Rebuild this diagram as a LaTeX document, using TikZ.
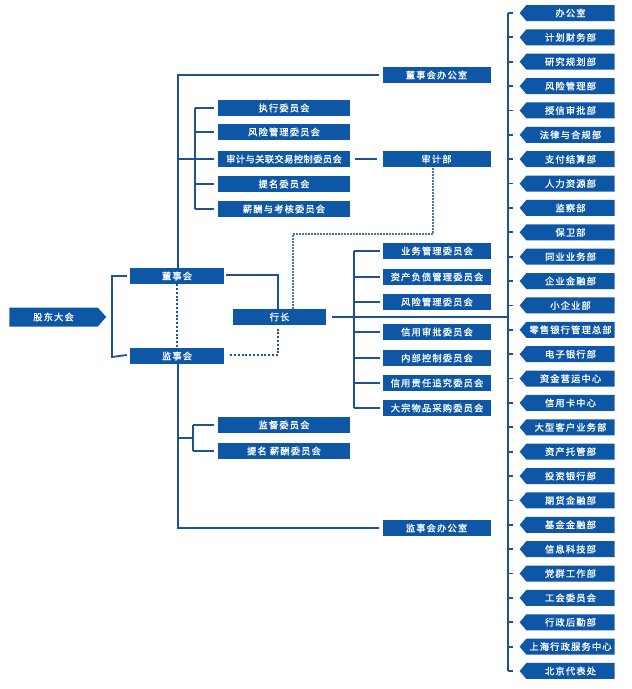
\documentclass[tikz,border=0pt]{standalone}
\usepackage{fontspec}
\newfontfamily\cjk[FakeBold=1.2,LetterSpace=12]{Noto Sans CJK SC}
\usetikzlibrary{shapes.symbols}
\definecolor{boxblue}{RGB}{14,86,166}
\definecolor{lineblue}{RGB}{32,82,145}
\tikzset{
  box/.style={fill=boxblue,text=white,inner sep=0pt,minimum height=16pt,font=\cjk\fontsize{9.3}{10}\selectfont},
  rbox/.style={box,shape=signal,signal to=west,signal pointer angle=100,minimum width=95pt,minimum height=16pt},
  conn/.style={draw=lineblue,line width=1.8pt},
  dconn/.style={draw=lineblue,line width=2pt,dash pattern=on 2pt off 1.8pt},
  tconn/.style={draw=lineblue!80,line width=1.2pt,dash pattern=on 1.5pt off 1.5pt}
}
\begin{document}
\begin{tikzpicture}[x=1pt,y=-1pt]
\useasboundingbox (0,0) rectangle (632,689);
% left
\node[box,shape=signal,signal to=east,signal pointer angle=96,minimum width=97pt,minimum height=19pt] (gd) at (53.5,317) {股东大会};
\node[box,minimum width=94pt] (dsh) at (177,276) {董事会};
\node[box,minimum width=94pt] (jsh) at (177,356) {监事会};
\node[box,minimum width=93pt] (hz) at (279.5,317) {行长};
% board
\node[box,minimum width=108pt] (dsbgs) at (436.5,75) {董事会办公室};
\node[box,minimum width=132pt] (bc1) at (284,108) {执行委员会};
\node[box,minimum width=132pt] (bc2) at (284,132) {风险管理委员会};
\node[box,minimum width=132pt,font=\cjk\fontsize{9.3}{10}\selectfont\addfontfeature{LetterSpace=4}] (bc3) at (284,159) {审计与关联交易控制委员会};
\node[box,minimum width=132pt] (bc4) at (284,184) {提名委员会};
\node[box,minimum width=132pt] (bc5) at (284,209) {薪酬与考核委员会};
\node[box,minimum width=108pt] (sjb) at (436.5,159) {审计部};
% supervisory
\node[box,minimum width=132pt] (sc1) at (284,425) {监督委员会};
\node[box,minimum width=132pt] (sc2) at (284,451) {提名 薪酬委员会};
\node[box,minimum width=108pt] (jsbgs) at (436.5,528) {监事会办公室};
% president committees
\node[box,minimum width=108pt] (pc1) at (437,251) {业务管理委员会};
\node[box,minimum width=108pt] (pc2) at (437,277) {资产负债管理委员会};
\node[box,minimum width=108pt] (pc3) at (437,302) {风险管理委员会};
\node[box,minimum width=108pt] (pc4) at (437,332) {信用审批委员会};
\node[box,minimum width=108pt] (pc5) at (437,358) {内部控制委员会};
\node[box,minimum width=108pt] (pc6) at (437,383) {信用责任追究委员会};
\node[box,minimum width=108pt] (pc7) at (437,408) {大宗物品采购委员会};
% right column
\foreach \t [count=\i from 0] in {办公室,计划财务部,研究规划部,风险管理部,授信审批部,法律与合规部,支付结算部,人力资源部,监察部,保卫部,同业业务部,企业金融部,小企业部,零售银行管理总部,电子银行部,资金营运中心,信用卡中心,大型客户业务部,资产托管部,投资银行部,期货金融部,基金金融部,信息科技部,党群工作部,工会委员会,行政后勤部,上海行政服务中心,北京代表处}{
  \pgfmathsetmacro{\yy}{13+24.37*\i}
  \node[rbox] (r\i) at (570.5,\yy) {\t};
  \coordinate (rb\i) at (508,\yy);
  \draw[conn] (rb\i) -- ([xshift=-6pt]r\i.west);
}
\draw[conn] (rb0) -- (rb27);
% connectors left
\coordinate (bl1) at (112,276);
\coordinate (bl2) at (112,357);
\draw[conn] ([xshift=-3pt]dsh.west) -- (bl1) -- (bl2) -- ([xshift=-3pt,yshift=1pt]jsh.west);
\draw[conn] ([xshift=2pt,yshift=1pt]dsh.east) -| ([xshift=-1.5pt]hz.north);
\draw[dconn] (dsh.south) -- (jsh.north);
\draw[dconn] ([xshift=6pt,yshift=1pt]jsh.east) -| ([xshift=-1.5pt,yshift=-2pt]hz.south);
\coordinate (dt) at (293,234);
\draw[tconn] (hz.north -| dt) -- (dt) -| (sjb.south -| 433,0);
% board
\coordinate (bt) at (178,75);
\draw[conn] (dsh.north -| bt) -- (bt) -- ([xshift=-3pt]dsbgs.west);
\coordinate (bj) at (178,159);
\coordinate (bb1) at (195,108);
\coordinate (bb2) at (195,209);
\draw[conn] (bj) -- (195,159);
\draw[conn] (bb1) -- (bb2);
\foreach \i in {1,...,5}{\draw[conn] (bb1 |- bc\i) -- ([xshift=-4pt]bc\i.west);}
\draw[conn] ([xshift=5pt]bc3.east) -- ([xshift=-5pt]sjb.west);
% supervisory
\coordinate (st) at (178,528);
\draw[conn] (jsh.south -| st) -- (st) -- ([xshift=-3pt]jsbgs.west);
\coordinate (sb1) at (193,425);
\coordinate (sb2) at (193,451);
\draw[conn] (178,438) -- (193,438);
\draw[conn] (sb1) -- (sb2);
\foreach \i in {1,2}{\draw[conn] (sb1 |- sc\i) -- ([xshift=-4pt]sc\i.west);}
% president
\coordinate (pb1) at (354,251);
\coordinate (pb2) at (354,408);
\draw[conn] ([xshift=6pt]hz.east) -- (rb0 |- hz.east);
\draw[conn] (pb1) -- (pb2);
\foreach \i in {1,...,7}{\draw[conn] (pb1 |- pc\i) -- ([xshift=-3pt]pc\i.west);}
\end{tikzpicture}
\end{document}
